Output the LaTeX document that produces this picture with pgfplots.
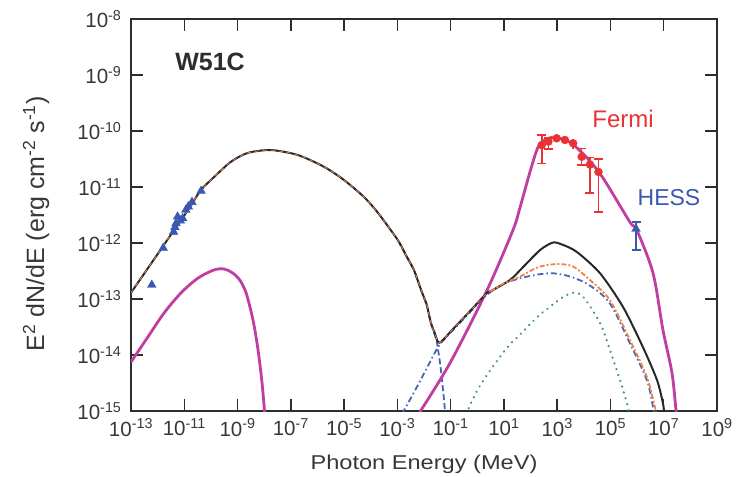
\documentclass[border=0pt]{standalone}
\usepackage{fontspec}
\setmainfont{Liberation Sans}
\usepackage{pgfplots}
\pgfplotsset{compat=1.18}
\definecolor{axcol}{RGB}{45,45,45}
\definecolor{txtcol}{RGB}{55,55,55}
\definecolor{magc}{RGB}{192,62,162}
\definecolor{fermired}{RGB}{234,50,52}
\definecolor{datblue}{RGB}{58,88,176}
\definecolor{orc}{RGB}{240,130,70}
\definecolor{bdd}{RGB}{70,100,182}
\definecolor{grc}{RGB}{60,150,95}
\definecolor{blk}{RGB}{40,40,40}
\begin{document}
\begin{tikzpicture}[x=1pt,y=1pt]
\path[use as bounding box] (0,0) rectangle (745,477);
\begin{axis}[
  at={(131pt,66pt)}, anchor=south west, scale only axis,
  width=586pt, height=392pt,
  xmode=log, ymode=log,
  xmin=1e-13, xmax=1e9, ymin=1e-15, ymax=1e-8,
  xtick={1e-13,1e-11,1e-9,1e-7,1e-5,1e-3,1e-1,1e1,1e3,1e5,1e7,1e9},
  xticklabels={10\textsuperscript{-13},10\textsuperscript{-11},10\textsuperscript{-9},10\textsuperscript{-7},10\textsuperscript{-5},10\textsuperscript{-3},10\textsuperscript{-1},10\textsuperscript{1},10\textsuperscript{3},10\textsuperscript{5},10\textsuperscript{7},10\textsuperscript{9}},
  ytick={1e-15,1e-14,1e-13,1e-12,1e-11,1e-10,1e-9,1e-8},
  yticklabels={10\textsuperscript{-15},10\textsuperscript{-14},10\textsuperscript{-13},10\textsuperscript{-12},10\textsuperscript{-11},10\textsuperscript{-10},10\textsuperscript{-9},10\textsuperscript{-8}},
  xminorticks=false, yminorticks=false,
  xtick pos=both, ytick pos=both,
  major tick length=12pt,
  tick style={line width=1.5pt, color=axcol},
  axis line style={line width=1.8pt, color=axcol},
  ticklabel style={font=\fontsize{20.5}{24}\selectfont, text=txtcol},
  xticklabel style={yshift=-4pt},
  yticklabel style={xshift=-6pt},
]
% IC (green dotted)
\addplot[grc, line width=2.4pt, line cap=round, dash pattern=on 0.1pt off 6pt, smooth] coordinates {
(0.380,8.91e-16)(1,2.34e-15)(3.02,5.25e-15)(12.6,1.32e-14)(52.5,2.63e-14)(200,5.01e-14)(537,7.24e-14)(1585,1.07e-13)(3981,1.29e-13)(9333,1.10e-13)(40740,3.72e-14)(95500,1.23e-14)(2.29e5,3.55e-15)(4.17e5,1.38e-15)(5.01e5,8.91e-16)};
% synchrotron cutoff (blue dashed)
\addplot[bdd, line width=1.8pt, dash pattern=on 6pt off 3pt] coordinates {
(1.05e-3,1.12e-12)(2.0e-3,6.31e-13)(4.17e-3,3.31e-13)(7.94e-3,1.41e-13)(1.26e-2,7.94e-14)(1.82e-2,3.72e-14)(3.02e-2,1.78e-14)(4.17e-2,6.31e-15)(5.25e-2,2.24e-15)(6.31e-2,8.91e-16)};
% bremsstrahlung (blue dash-dot)
\addplot[bdd, line width=1.8pt, dash pattern=on 6pt off 3pt on 1.5pt off 3pt, smooth, tension=0.5] coordinates {
(1.51e-3,8.91e-16)(5.01e-3,2.51e-15)(1.58e-2,7.08e-15)(3.80e-2,1.51e-14)(0.126,2.82e-14)(0.501,5.62e-14)(2.34,1.20e-13)(10,1.86e-13)(39.8,2.34e-13)(200,2.75e-13)(692,2.88e-13)(3162,2.51e-13)(16982,1.74e-13)(95500,8.32e-14)(5.37e5,1.62e-14)(2.34e6,3.55e-15)(3.98e6,1.17e-15)(4.47e6,8.91e-16)};
% hadronic model (magenta), low-energy part
\addplot[magc, line width=2.8pt, smooth, tension=0.5] coordinates {
(1e-13,7.50e-15)(4.27e-13,2.09e-14)(1.74e-12,5.62e-14)(7.59e-12,1.29e-13)(3.31e-11,2.37e-13)(1.32e-10,3.31e-13)(3.16e-10,3.43e-13)(6.31e-10,2.95e-13)(1.17e-9,2.24e-13)(2.09e-9,1.29e-13)(3.80e-9,4.22e-14)(5.89e-9,1.23e-14)(8.32e-9,3.16e-15)(1.05e-8,8.91e-16)};
% hadronic model (magenta), high-energy part
\addplot[magc, line width=2.8pt, smooth, tension=0.5] coordinates {
(6.31e-3,8.91e-16)(9.55e-2,7.24e-15)(2.34,1.45e-13)(21.9,1.70e-12)(39.8,4.22e-12)(95.5,1.86e-11)(191,5.13e-11)(398,7.24e-11)(891,7.59e-11)(3020,6.31e-11)(13183,3.31e-11)(52480,1.45e-11)(5.37e5,2.37e-12)(9.77e5,1.70e-12)(3.98e6,2.88e-13)(9.33e6,2.82e-14)(2.04e7,4.79e-15)(2.88e7,1.05e-15)(3.02e7,8.91e-16)};
% total (black)
\addplot[blk, line width=2.0pt, smooth, tension=0.45] coordinates {
(1e-13,1.29e-13)(6.03e-13,4.47e-13)(3.16e-12,1.41e-12)(1.58e-11,4.27e-12)(4.27e-11,8.91e-12)(1.32e-10,1.51e-11)(5.62e-10,2.82e-11)(2.45e-9,4.07e-11)(1.82e-8,4.57e-11)(1.86e-7,3.72e-11)(1.78e-6,2.29e-11)(1e-5,1.33e-11)(5.62e-5,6.61e-12)(1.86e-4,3.47e-12)(1.05e-3,1.12e-12)(2.0e-3,6.31e-13)(4.17e-3,3.31e-13)(7.94e-3,1.41e-13)(1.26e-2,7.94e-14)(1.82e-2,3.72e-14)(2.51e-2,2.51e-14)(3.80e-2,1.66e-14)(0.126,2.95e-14)(0.501,5.89e-14)(2.34,1.29e-13)(3.16,1.38e-13)(17.0,2.19e-13)(52.5,3.72e-13)(229,7.50e-13)(692,1.02e-12)(1585,9.33e-13)(5495,6.92e-13)(40740,2.88e-13)(2.95e5,7.24e-14)(1.66e6,1.38e-14)(5.62e6,3.55e-15)(9.33e6,1.38e-15)(1.05e7,8.91e-16)};
% leptonic sum (orange dashed)
\addplot[orc, line width=0.8pt, dash pattern=on 4pt off 4pt, smooth, tension=0.45] coordinates {
(1e-13,1.29e-13)(6.03e-13,4.47e-13)(3.16e-12,1.41e-12)(1.58e-11,4.27e-12)(4.27e-11,8.91e-12)(1.32e-10,1.51e-11)(5.62e-10,2.82e-11)(2.45e-9,4.07e-11)(1.82e-8,4.57e-11)(1.86e-7,3.72e-11)(1.78e-6,2.29e-11)(1e-5,1.33e-11)(5.62e-5,6.61e-12)(1.86e-4,3.47e-12)(1.05e-3,1.12e-12)(2.0e-3,6.31e-13)(4.17e-3,3.31e-13)(7.94e-3,1.41e-13)(1.26e-2,7.94e-14)(1.82e-2,3.72e-14)(2.51e-2,2.51e-14)(3.80e-2,1.66e-14)(0.126,2.95e-14)(0.501,5.89e-14)(2.34,1.29e-13)(3.16,1.38e-13)(10,1.91e-13)};
\addplot[orc, line width=1.8pt, dash pattern=on 5pt off 2pt on 2pt off 2pt, smooth, tension=0.45] coordinates {
(3.16,1.38e-13)(10,1.91e-13)(39.8,2.51e-13)(200,3.72e-13)(1000,4.22e-13)(3981,3.80e-13)(16982,2.19e-13)(95500,9.55e-14)(5.37e5,1.86e-14)(2.34e6,4.07e-15)(4.68e6,1.17e-15)(5.25e6,8.91e-16)};
% radio data
\addplot[only marks, mark=triangle*, mark size=5pt, datblue] coordinates {
(6.03e-13,1.78e-13)(1.62e-12,8.13e-13)(3.98e-12,1.58e-12)(4.47e-12,1.91e-12)(4.90e-12,2.24e-12)(5.62e-12,2.95e-12)(7.08e-12,2.51e-12)(8.71e-12,2.75e-12)(1.15e-11,3.89e-12)(1.41e-11,4.47e-12)(1.95e-11,5.37e-12)(4.27e-11,8.51e-12)};
% Fermi data
\addplot[only marks, mark=*, mark size=4pt, fermired,
  error bars/.cd, y dir=both, y explicit, error mark=none,
  error bar style={line width=1.6pt, fermired}]
table[x=x, y=y, y error plus=ep, y error minus=em] {
x y ep em
263 5.62e-11 2.89e-11 2.99e-11
468 6.46e-11 1.13e-11 1.67e-11
955 7.41e-11 0.91e-11 0.95e-11
1950 6.92e-11 1.02e-11 1.03e-11
3981 6.03e-11 1.21e-11 1.24e-11
8318 3.47e-11 1.43e-11 1.02e-11
16982 2.51e-11 0.88e-11 1.73e-11
35481 1.86e-11 1.30e-11 1.50e-11
};
% Fermi error-bar caps (ends of the bars)
\addplot[only marks, mark=-, mark size=4.5pt, fermired, mark options={line width=1.6pt}] coordinates {
(263,8.51e-11)(263,2.63e-11)(468,7.59e-11)(468,4.79e-11)(8318,4.90e-11)(8318,2.45e-11)(16982,3.39e-11)(16982,7.78e-12)(35481,3.16e-11)(35481,3.60e-12)};
% HESS data
\addplot[only marks, mark=triangle*, mark size=5pt, datblue,
  error bars/.cd, y dir=both, y explicit, error mark=none,
  error bar style={line width=1.6pt, datblue}]
table[x=x, y=y, y error plus=ep, y error minus=em] {
x y ep em
9.12e5 1.78e-12 0.62e-12 1.03e-12
};
\addplot[only marks, mark=-, mark size=4.5pt, datblue, mark options={line width=1.6pt}] coordinates {
(9.12e5,2.40e-12)(9.12e5,7.50e-13)};
\end{axis}
\node[font=\fontsize{25}{30}\selectfont\bfseries, text=axcol] at (210,415) {W51C};
\node[font=\fontsize{24}{28}\selectfont, text=fermired] at (623,358) {Fermi};
\node[font=\fontsize{23}{28}\selectfont, text=datblue] at (669,279) {HESS};
\node[rotate=90, font=\fontsize{25}{30}\selectfont, text=txtcol] at (36,253) {E\textsuperscript{2} dN/dE (erg cm\textsuperscript{-2} s\textsuperscript{-1})};
\node[anchor=base, font=\fontsize{20}{24}\selectfont, text=txtcol] at (424,8) {\scalebox{1.18}[1]{Photon Energy (MeV)}};
\end{tikzpicture}
\end{document}
